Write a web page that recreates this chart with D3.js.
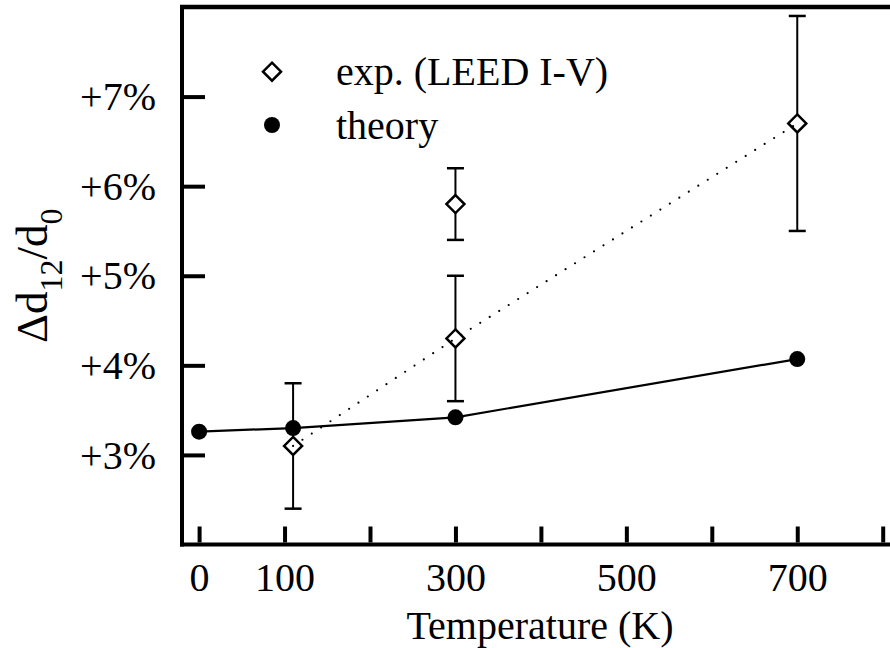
<!DOCTYPE html>
<html>
<head>
<meta charset="utf-8">
<script src="https://cdn.jsdelivr.net/npm/d3@7"></script>
<style>
  body { margin: 0; background: #fff; }
  text { font-family: "Liberation Serif", "Times New Roman", Times, serif; fill: #000; }
</style>
</head>
<body>
<svg id="chart" width="890" height="648"></svg>
<script>
// Interlayer relaxation Δd12/d0 (%) versus temperature (K)
const theoryTemp  = [0, 110, 300, 700];
const theoryValue = [3.26, 3.30, 3.42, 4.07];

const expTemp    = [110, 300, 300, 700];
const expValue   = [3.1, 4.3, 5.8, 6.7];
const expError   = [0.7, 0.7, 0.4, 1.2];
const expOnTrend = [true, true, false, true];   // points joined by the dotted guide

const xTickValues = [0, 100, 200, 300, 400, 500, 600, 700, 800];
const xTickLabels = ["0", "100", "", "300", "", "500", "", "700", ""];
const yTickValues = [3, 4, 5, 6, 7];
const yTickLabels = ["+3%", "+4%", "+5%", "+6%", "+7%"];

const legendLabels = ["exp. (LEED I-V)", "theory"];

const svg = d3.select("#chart");
const W = 890, H = 648;

const x = d3.scaleLinear().domain([-20, 820]).range([182, 899.8]);
const y = d3.scaleLinear().domain([2, 8]).range([544.5, 7]);

const ink = "#000";

// frame: left, bottom and top rules
const frame = svg.append("g");
frame.append("line").attr("x1", x(-20)).attr("x2", x(-20)).attr("y1", y(8) - 2).attr("y2", y(2) + 2)
  .attr("stroke", ink).attr("stroke-width", 4);
frame.append("line").attr("x1", x(-20) - 2).attr("x2", W).attr("y1", y(2)).attr("y2", y(2))
  .attr("stroke", ink).attr("stroke-width", 4);
frame.append("line").attr("x1", x(-20) - 2).attr("x2", W).attr("y1", y(8)).attr("y2", y(8))
  .attr("stroke", ink).attr("stroke-width", 4.5);

// bottom axis: inward ticks, labels at selected temperatures
const xAxis = d3.axisBottom(x)
  .tickValues(xTickValues)
  .tickSizeInner(-16).tickSizeOuter(0).tickPadding(0)
  .tickFormat((d, i) => xTickLabels[i]);
const gx = svg.append("g").attr("transform", `translate(0,${y(2) - 2})`).call(xAxis);
gx.select(".domain").remove();
gx.selectAll(".tick line").attr("stroke", ink).attr("stroke-width", 4);
gx.selectAll(".tick text").attr("y", 48).attr("dy", 0)
  .style("font-size", "40px").style("font-family", "'Liberation Serif', serif");

// left axis: inward ticks with percentage labels
const yAxis = d3.axisLeft(y)
  .tickValues(yTickValues)
  .tickSizeInner(-21).tickSizeOuter(0).tickPadding(0)
  .tickFormat((d, i) => yTickLabels[i]);
const gy = svg.append("g").attr("transform", `translate(${x(-20) + 2},0)`).call(yAxis);
gy.select(".domain").remove();
gy.selectAll(".tick line").attr("stroke", ink).attr("stroke-width", 4);
gy.selectAll(".tick text").attr("x", -28).attr("dy", "0.33em")
  .style("font-size", "40px").style("font-family", "'Liberation Serif', serif");

// axis titles
svg.append("text")
  .attr("x", 540).attr("y", 639)
  .attr("text-anchor", "middle")
  .style("font-size", "40px")
  .text("Temperature (K)");

const yTitle = svg.append("text")
  .attr("transform", `translate(47,${(y(2) + y(8)) / 2}) rotate(-90)`)
  .attr("text-anchor", "middle")
  .style("font-size", "45px");
yTitle.append("tspan").text("Δd");
yTitle.append("tspan").attr("dy", 15).style("font-size", "32px").text("12");
yTitle.append("tspan").attr("dy", -15).text("/d");
yTitle.append("tspan").attr("dy", 15).style("font-size", "32px").text("0");

// theory curve
const line = d3.line().x(d => x(d[0])).y(d => y(d[1]));
const theoryPts = theoryTemp.map((t, i) => [t, theoryValue[i]]);
svg.append("path").datum(theoryPts).attr("d", line)
  .attr("fill", "none").attr("stroke", ink).attr("stroke-width", 2.2);

// experimental error bars
const capHalf = 8.5;
const bars = svg.append("g");
expTemp.forEach((t, i) => {
  const cx = x(t), top = y(expValue[i] + expError[i]), bot = y(expValue[i] - expError[i]);
  bars.append("line").attr("x1", cx).attr("x2", cx).attr("y1", top).attr("y2", bot)
    .attr("stroke", ink).attr("stroke-width", 2);
  [top, bot].forEach(cy => bars.append("line")
    .attr("x1", cx - capHalf).attr("x2", cx + capHalf).attr("y1", cy).attr("y2", cy)
    .attr("stroke", ink).attr("stroke-width", 2.5));
});

// diamond markers
const diamond = (cx, cy, r) => `M${cx},${cy - r}L${cx + r},${cy}L${cx},${cy + r}L${cx - r},${cy}Z`;
svg.append("g").selectAll("path").data(expTemp).join("path")
  .attr("d", (t, i) => diamond(x(t), y(expValue[i]), 9))
  .attr("fill", "#fff").attr("stroke", ink).attr("stroke-width", 2.5);

// dotted guide through the experimental trend
const trendPts = expTemp.map((t, i) => [t, expValue[i]]).filter((d, i) => expOnTrend[i]);
svg.append("path").datum(trendPts).attr("d", line)
  .attr("fill", "none").attr("stroke", ink).attr("stroke-width", 2.2)
  .attr("stroke-linecap", "round").attr("stroke-dasharray", "0 11.2");

// theory markers
svg.append("g").selectAll("circle").data(theoryPts).join("circle")
  .attr("cx", d => x(d[0])).attr("cy", d => y(d[1])).attr("r", 8)
  .attr("fill", ink);

// legend
const legend = svg.append("g");
const legX = 272, legY0 = 71.7, legStep = 53.3;
legend.append("path").attr("d", diamond(legX, legY0, 9))
  .attr("fill", "#fff").attr("stroke", ink).attr("stroke-width", 2.5);
legend.append("circle").attr("cx", legX).attr("cy", legY0 + legStep).attr("r", 8).attr("fill", ink);
legendLabels.forEach((s, i) => legend.append("text")
  .attr("x", 336).attr("y", legY0 + i * legStep + 13.5)
  .style("font-size", "40px").text(s));
</script>
</body>
</html>
